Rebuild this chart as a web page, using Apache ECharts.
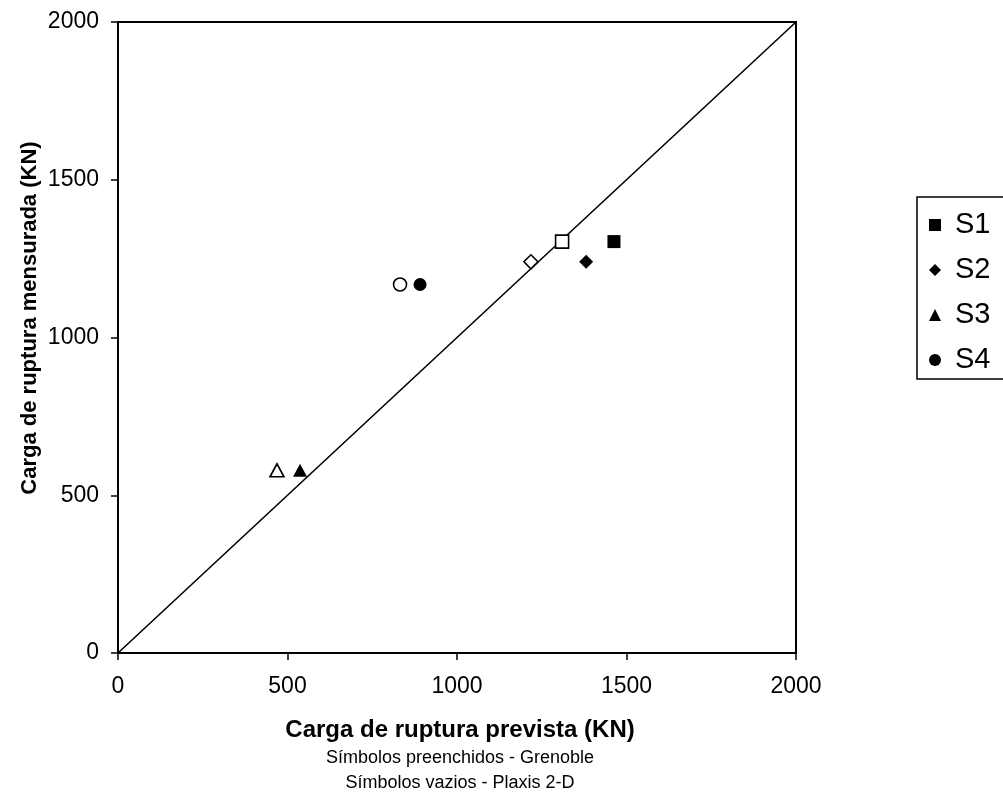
<!DOCTYPE html>
<html>
<head>
<meta charset="utf-8">
<script src="https://cdn.jsdelivr.net/npm/echarts@6/dist/echarts.min.js"></script>
<style>
	html, body { margin: 0; padding: 0; background: #fff; }
	#chart { width: 1003px; height: 792px; }
</style>
</head>
<body>
<div id="chart"></div>
<script>
// séries: S1..S4, símbolos cheios = Grenoble, vazios = Plaxis 2-D
const seriesNames = ['S1', 'S2', 'S3', 'S4']
const symbols = ['rect', 'diamond', 'triangle', 'circle']
const symbolSizes = [13, [14, 14], [14, 13], 13]
const measured = [1304, 1240, 579, 1168]
const grenoble = [1463, 1381, 537, 891]
const plaxis = [1310, 1218, 469, 832]
const axisTicks = [0, 500, 1000, 1500, 2000]

const font = 'Liberation Sans, Arial, sans-serif'

let chart = echarts.init(document.getElementById('chart'), null, { renderer: 'canvas' })

let series = [{
	name: 'linha',
	type: 'line',
	data: [[axisTicks[0], axisTicks[0]], [axisTicks[4], axisTicks[4]]],
	showSymbol: false,
	symbol: 'none',
	lineStyle: { color: '#000', width: 1.6 },
	silent: true,
	z: 1
}]

for (let i = 0; i < seriesNames.length; i++) {
	series.push({
		name: seriesNames[i] + ' Plaxis',
		type: 'scatter',
		symbol: symbols[i],
		symbolSize: symbolSizes[i],
		data: [[plaxis[i], measured[i]]],
		itemStyle: { color: '#fff', borderColor: '#000', borderWidth: 1.6, opacity: 1 },
		z: 3
	})
	series.push({
		name: seriesNames[i],
		type: 'scatter',
		symbol: symbols[i],
		symbolSize: symbolSizes[i],
		data: [[grenoble[i], measured[i]]],
		itemStyle: { color: '#000', opacity: 1 },
		z: 3
	})
}

const axisCommon = {
	type: 'value',
	min: axisTicks[0],
	max: axisTicks[4],
	interval: 500,
	axisLine: { show: true, lineStyle: { color: '#000', width: 2 } },
	axisTick: { show: true, inside: false, length: 7, lineStyle: { color: '#000', width: 1.5 } },
	axisLabel: { color: '#000', fontSize: 23, fontFamily: font, formatter: v => String(v) },
	splitLine: { show: false }
}

let option = {
	animation: false,
	backgroundColor: '#fff',
	grid: {
		left: 118,
		right: 207,
		top: 22,
		bottom: 139,
		show: true,
		borderColor: '#000',
		borderWidth: 2,
		backgroundColor: 'transparent'
	},
	xAxis: Object.assign({}, axisCommon, {
		axisLabel: Object.assign({}, axisCommon.axisLabel, { margin: 22 })
	}),
	yAxis: Object.assign({}, axisCommon, {
		axisLabel: Object.assign({}, axisCommon.axisLabel, { margin: 19 })
	}),
	legend: {
		orient: 'vertical',
		left: 917,
		top: 197,
		padding: [13, 20, 4, 12],
		itemGap: 15,
		itemWidth: 12,
		itemHeight: 12,
		borderColor: '#000',
		borderWidth: 1.5,
		borderRadius: 0,
		textStyle: { color: '#000', fontSize: 29, lineHeight: 30, fontFamily: font, padding: [0, 0, 0, 9] },
		data: seriesNames.map((n, i) => ({ name: n, icon: symbols[i] }))
	},
	graphic: [
		{
			type: 'text',
			x: 460, y: 730,
			style: { text: 'Carga de ruptura prevista (KN)', font: 'bold 24px ' + font, fill: '#000', align: 'center', verticalAlign: 'middle', textAlign: 'center', textVerticalAlign: 'middle' }
		},
		{
			type: 'text',
			x: 460, y: 758,
			style: { text: 'Símbolos preenchidos - Grenoble', font: '18px ' + font, fill: '#000', align: 'center', verticalAlign: 'middle', textAlign: 'center', textVerticalAlign: 'middle' }
		},
		{
			type: 'text',
			x: 460, y: 783,
			style: { text: 'Símbolos vazios - Plaxis 2-D', font: '18px ' + font, fill: '#000', align: 'center', verticalAlign: 'middle', textAlign: 'center', textVerticalAlign: 'middle' }
		},
		{
			type: 'text',
			rotation: Math.PI / 2,
			x: 30, y: 318,
			style: { text: 'Carga de ruptura mensurada (KN)', font: 'bold 22px ' + font, fill: '#000', align: 'center', verticalAlign: 'middle', textAlign: 'center', textVerticalAlign: 'middle' }
		}
	],
	series: series
}

chart.setOption(option)
</script>
</body>
</html>
